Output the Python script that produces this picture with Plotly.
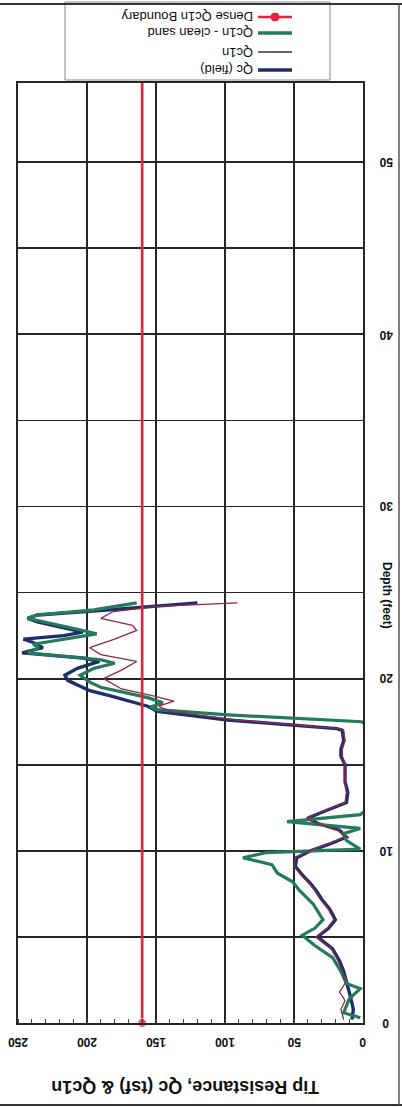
import plotly.graph_objects as go

# ---------------- data ----------------
navy_depth = [0.2, 0.8, 1.5, 2.3, 3.0, 3.6, 4.3, 5.0, 5.5, 6.0,
              6.6, 7.2, 7.7, 8.1, 8.6, 9.1, 9.6, 10.0, 10.4, 10.8,
              11.2, 11.6, 11.9, 12.3, 12.8, 13.4, 14.0, 14.6, 15.0, 15.5,
              15.9, 16.4, 17.0, 17.1, 17.3, 17.6, 18.1, 18.4, 19.0, 19.3,
              19.9, 20.2, 20.6, 21.0, 21.2, 21.5, 21.8, 22.1, 22.3, 22.5,
              22.7, 23.3, 23.5, 23.7, 24.0, 24.4]
qc_field = [8, 7, 9, 12, 14, 17, 22, 33, 25, 20,
            24, 30, 34, 38, 44, 49, 48, 38, 24, 12,
            17, 33, 40, 28, 12, 11, 13, 13, 13, 16,
            16, 14, 15, 19, 51, 98, 149, 156, 183, 198,
            214, 216, 207, 191, 203, 247, 232, 239, 246, 217,
            203, 236, 243, 236, 183, 120]

q1n_depth = [0.2, 0.8, 1.3, 1.8, 2.3, 3.0, 3.6, 4.3, 5.0, 5.5,
             6.0, 6.6, 7.2, 7.7, 8.1, 8.6, 9.1, 9.6, 10.0, 10.4,
             10.8, 11.2, 11.6, 11.9, 12.3, 12.8, 13.4, 14.0, 14.6, 15.0,
             15.5, 15.9, 16.4, 17.0, 17.1, 17.3, 17.6, 18.1, 18.4, 18.7,
             19.0, 19.4, 20.0, 20.5, 21.0, 21.4, 21.8, 22.3, 22.8, 23.1,
             23.5, 23.9, 24.2, 24.4]
qc1n = [14, 16, 13, 17, 13, 15, 18, 23, 34, 26,
        21, 25, 31, 35, 39, 45, 50, 49, 39, 25,
        13, 18, 34, 41, 29, 13, 12, 13, 13, 13,
        15, 15, 13, 14, 17, 47, 92, 140, 148, 137,
        152, 175, 188, 175, 164, 190, 198, 180, 164, 167,
        190, 181, 149, 91]

cs_depth = [0.3, 0.6, 1.0, 1.4, 2.0, 2.3, 3.0, 3.8, 4.5, 5.1,
            5.5, 6.0, 6.9, 7.7, 8.2, 8.7, 9.2, 9.6, 9.9, 10.1,
            10.6, 11.0, 11.3, 11.7, 12.1, 12.4, 17.3, 17.5, 17.9, 18.2,
            18.35, 18.6, 18.9, 19.5, 19.8, 20.2, 20.6, 20.9, 21.1, 21.5,
            21.8, 22.0, 22.6, 22.8, 23.5, 23.7, 24.0, 24.4]
qc1n_cs = [2, 14, 12, 10, 2, 12, 16, 22, 35, 44,
           35, 29, 36, 46, 51, 62, 66, 87, 70, 2,
           12, 14, 2, 55, 2, -3, -3, 1, 98, 149,
           154, 145, 156, 190, 198, 205, 195, 180, 190, 243,
           235, 239, 193, 203, 243, 236, 195, 164]

boundary_depth = [0, 55]
boundary_qc = [160, 160]

x_tick_vals = [0, 50, 100, 150, 200, 250]
x_tick_text = ["0", "50", "100", "150", "200", "250"]
y_tick_vals = [0, 10, 20, 30, 40, 50]
y_tick_text = ["0", "10", "20", "30", "40", "50"]
legend_labels = ["Qc (field)", "Qc1n", "Qc1n - clean sand", "Dense Qc1n Boundary"]
x_title = "Tip Resistance, Qc (tsf) & Qc1n"
y_title = "Depth (feet)"

# ---------------- style ----------------
W, H = 402, 1107
PL, PR, PT, PB = 18, 363, 83, 1023
NAVY = "#1d2f6b"
GREEN = "#247a5a"
THIN = "#8a2a4a"
RED = "#e8203c"
GRID = "#262626"
FONT = "Liberation Sans, Arial, sans-serif"


def px(xp):
    return (xp - PL) / (PR - PL)


def py(yp):
    return (PB - yp) / (PB - PT)


fig = go.Figure()
fig.add_trace(go.Scatter(x=qc_field, y=navy_depth, mode="lines", name=legend_labels[0],
                         line=dict(color=NAVY, width=3.4)))
fig.add_trace(go.Scatter(x=qc1n_cs, y=cs_depth, mode="lines", name=legend_labels[2],
                         line=dict(color=GREEN, width=3.2)))
fig.add_trace(go.Scatter(x=qc1n, y=q1n_depth, mode="lines", name=legend_labels[1],
                         line=dict(color=THIN, width=1.3)))
fig.add_trace(go.Scatter(x=boundary_qc, y=boundary_depth, mode="lines+markers",
                         name=legend_labels[3], cliponaxis=False,
                         line=dict(color=RED, width=2.6),
                         marker=dict(color=RED, size=[9, 0], symbol="circle")))

fig.update_layout(
    width=W, height=H,
    margin=dict(l=PL, r=W - PR, t=PT, b=H - PB, pad=0),
    paper_bgcolor="white", plot_bgcolor="white",
    showlegend=False,
    font=dict(family=FONT, color="#111"),
    xaxis=dict(range=[250, 0], tickvals=x_tick_vals, showticklabels=False,
               showgrid=True, gridcolor=GRID, gridwidth=1.6,
               showline=True, linecolor=GRID, linewidth=2, mirror=True,
               zeroline=False, ticks="",
               minor=dict(dtick=10, ticks="inside", ticklen=4, tickcolor="#444",
                          tickwidth=1, showgrid=False)),
    yaxis=dict(range=[0, 54.6], tickvals=y_tick_vals, showticklabels=False,
               showgrid=True, gridcolor=GRID, gridwidth=1.8,
               showline=True, linecolor=GRID, linewidth=2, mirror=True,
               zeroline=False, ticks="",
               minor=dict(dtick=5, showgrid=True, gridcolor=GRID, gridwidth=1.8, ticks="")),
)

ann = []
for v, t in zip(x_tick_vals, x_tick_text):
    ann.append(dict(x=v, xref="x", y=py(1042), yref="paper", text="<b>" + t + "</b>",
                    showarrow=False, textangle=180,
                    font=dict(size=12, family=FONT, color="#111"),
                    xanchor="center", yanchor="middle"))
for v, t in zip(y_tick_vals, y_tick_text):
    ann.append(dict(x=px(386), xref="paper", y=v, yref="y", text="<b>" + t + "</b>",
                    showarrow=False, textangle=180,
                    font=dict(size=12, family=FONT, color="#111"),
                    xanchor="center", yanchor="middle"))
ann.append(dict(x=px(387), xref="paper", y=py(595), yref="paper", text="<b>" + y_title + "</b>",
                showarrow=False, textangle=90,
                font=dict(size=12, family=FONT, color="#111"),
                xanchor="center", yanchor="middle"))
ann.append(dict(x=px(185), xref="paper", y=py(1087), yref="paper", text="<b>" + x_title + "</b>",
                showarrow=False, textangle=180,
                font=dict(size=18, family=FONT, color="#111"),
                xanchor="center", yanchor="middle"))

# manual (upside-down) legend
leg_rows = [(70, legend_labels[0], NAVY, 3.4),
            (52, legend_labels[1], "#333", 1.4),
            (33, legend_labels[2], GREEN, 3.4),
            (17, legend_labels[3], RED, 2.6)]
shapes = []
for yrow, lab, col, wid in leg_rows:
    shapes.append(dict(type="line", xref="paper", yref="paper",
                       x0=px(258), x1=px(292), y0=py(yrow), y1=py(yrow),
                       line=dict(color=col, width=wid)))
    ann.append(dict(x=px(255), xref="paper", y=py(yrow), yref="paper", text=lab,
                    showarrow=False, textangle=180, xanchor="right", yanchor="middle",
                    font=dict(size=13, family=FONT, color="#111")))
shapes.append(dict(type="circle", xref="paper", yref="paper",
                   x0=px(271), x1=px(279), y0=py(13), y1=py(21),
                   fillcolor=RED, line=dict(color=RED, width=1)))
# legend box
shapes.append(dict(type="rect", xref="paper", yref="paper",
                   x0=px(65), x1=px(330), y0=py(80), y1=py(2),
                   line=dict(color="#888", width=1)))
# page frame
shapes.append(dict(type="line", xref="paper", yref="paper", x0=px(0), x1=px(402),
                   y0=py(4), y1=py(4), line=dict(color="#333", width=2)))
shapes.append(dict(type="line", xref="paper", yref="paper", x0=px(0), x1=px(402),
                   y0=py(1105), y1=py(1105), line=dict(color="#333", width=2)))
shapes.append(dict(type="line", xref="paper", yref="paper", x0=px(399), x1=px(399),
                   y0=py(4), y1=py(1105), line=dict(color="#555", width=1.5)))

fig.update_layout(annotations=ann, shapes=shapes)
fig.write_html("out.html",
               config={"displayModeBar": False, "staticPlot": True},
               post_script="document.body.style.margin='0';document.body.style.overflow='hidden';")
